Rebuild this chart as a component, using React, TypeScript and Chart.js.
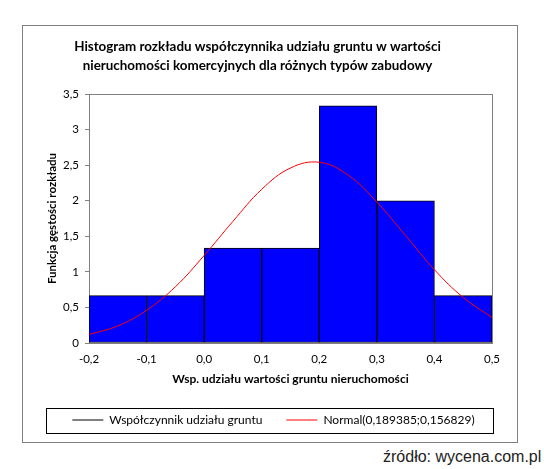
import { useEffect, useRef } from "react";
import Chart from "chart.js/auto";

// histogram bins (centre of each 0.1 wide bin) and density heights
const binCenters = [-0.15, -0.05, 0.05, 0.15, 0.25, 0.35, 0.45];
const binDensity = [0.667, 0.667, 1.333, 1.333, 3.333, 2.0, 0.667];

// fitted normal curve
const curveX = [-0.2, -0.15, -0.1, -0.05, 0, 0.05, 0.1, 0.15, 0.2, 0.25, 0.3, 0.35, 0.4, 0.45, 0.5];
const curveY = [0.12, 0.24, 0.46, 0.79, 1.23, 1.71, 2.16, 2.46, 2.54, 2.36, 1.98, 1.51, 1.03, 0.64, 0.36];

const xRange = [-0.2, 0.5];
const yRange = [0, 3.5];

const titleLines = [
  "Histogram rozkładu współczynnika udziału gruntu w wartości",
  "nieruchomości komercyjnych dla różnych typów zabudowy",
];
const seriesNames = ["Współczynnik udziału gruntu", "Normal(0,189385;0,156829)"];
const xTitle = "Wsp. udziału wartości gruntu nieruchomości";
const yTitle = "Funkcja gęstości rozkładu";

const FONT = "Lato, 'Liberation Sans', sans-serif";

const clean = (v: number) => (Math.abs(v) < 1e-9 ? 0 : v);
const fmtX = (v: number) => clean(v).toFixed(1).replace(".", ",");
const fmtY = (v: number) => {
  const n = clean(v);
  return Number.isInteger(n) ? String(n) : n.toFixed(1).replace(".", ",");
};

const frame = {
  id: "frame",
  afterLayout(chart: any) {
    // centre legend items a bit to the right, like the original
    chart.legend.left += 16;
    chart.legend.right += 16;
  },
  beforeDatasetsDraw(chart: any) {
    const { ctx, chartArea: a } = chart;
    ctx.save();
    ctx.strokeStyle = "#808080";
    ctx.lineWidth = 1;
    ctx.strokeRect(a.left + 0.5, a.top + 0.5, a.right - a.left, a.bottom - a.top);
    ctx.restore();
  },
  afterDraw(chart: any) {
    const { ctx, legend } = chart;
    const cy = legend.top + 24 + 6;
    ctx.save();
    ctx.strokeStyle = "#000";
    ctx.lineWidth = 1;
    ctx.strokeRect(23.5, Math.round(cy - 12.5) + 0.5, 447, 25);
    ctx.restore();
  },
};

export default function App() {
  const canvasRef = useRef<HTMLCanvasElement | null>(null);
  const chartRef = useRef<Chart | null>(null);

  useEffect(() => {
    if (!canvasRef.current) return;
    if (chartRef.current) chartRef.current.destroy();

    chartRef.current = new Chart(canvasRef.current, {
      type: "bar",
      data: {
        datasets: [
          {
            type: "bar",
            label: seriesNames[0],
            data: binCenters.map((x, i) => ({ x, y: binDensity[i] })),
            backgroundColor: "#0000ff",
            borderColor: "#000000",
            borderWidth: 1,
            borderSkipped: false,
            barPercentage: 1,
            categoryPercentage: 1,
            order: 2,
          },
          {
            type: "line",
            label: seriesNames[1],
            data: curveX.map((x, i) => ({ x, y: curveY[i] })),
            borderColor: "#ff0000",
            borderWidth: 1,
            pointRadius: 0,
            tension: 0.4,
            fill: false,
            order: 1,
          },
        ] as any,
      },
      options: {
        animation: false,
        responsive: false,
        devicePixelRatio: 1,
        layout: { padding: { left: 0, right: 25, top: 0, bottom: 6 } },
        plugins: {
          title: {
            display: true,
            text: titleLines,
            color: "#000",
            font: { family: FONT, size: 13.4, weight: "bold", lineHeight: "19px" },
            padding: { top: 11.5, bottom: 18.5 },
          },
          legend: {
            position: "bottom",
            labels: {
              color: "#000",
              font: { family: FONT, size: 12 },
              padding: 24,
              usePointStyle: true,
              pointStyleWidth: 31,
              sort: (a: any, b: any) => a.datasetIndex - b.datasetIndex,
              generateLabels: (chart: any) =>
                chart.data.datasets.map((ds: any, i: number) => ({
                  text: ds.label,
                  datasetIndex: i,
                  pointStyle: "line",
                  strokeStyle: i === 0 ? "#000" : "#ff0000",
                  fillStyle: i === 0 ? "#000" : "#ff0000",
                  lineWidth: 1,
                  fontColor: "#000",
                  hidden: false,
                })),
            },
          },
          tooltip: { enabled: false },
        },
        scales: {
          x: {
            type: "linear",
            min: xRange[0],
            max: xRange[1],
            offset: false,
            grid: { display: false, drawTicks: false },
            border: { display: false },
            ticks: {
              stepSize: 0.1,
              padding: 9,
              color: "#000",
              font: { family: FONT, size: 11.5 },
              maxRotation: 0,
              callback: (v: any) => fmtX(Number(v)),
            },
            title: {
              display: true,
              text: xTitle,
              color: "#000",
              font: { family: FONT, size: 12, weight: "bold" },
              padding: { top: 0, bottom: 4 },
            },
            afterFit: (scale: any) => {
              scale.height = 47;
            },
          },
          y: {
            min: yRange[0],
            max: yRange[1],
            grid: { display: true, drawOnChartArea: false, tickLength: 4, color: "#808080" },
            border: { display: true, color: "#808080" },
            ticks: {
              stepSize: 0.5,
              padding: 6,
              color: "#000",
              font: { family: FONT, size: 11.5 },
              callback: (v: any) => fmtY(Number(v)),
            },
            title: {
              display: true,
              text: yTitle,
              color: "#000",
              font: { family: FONT, size: 11.5, weight: "bold" },
              padding: { top: 22.8, bottom: 0 },
            },
            afterFit: (scale: any) => {
              scale.width = 66;
            },
          },
        },
      },
      plugins: [frame],
    });

    return () => {
      chartRef.current?.destroy();
      chartRef.current = null;
    };
  }, []);

  return (
    <div style={{ position: "absolute", left: 0, top: 0, width: 544, height: 469, background: "#fff" }}>
      <div
        style={{
          position: "absolute",
          left: 22,
          top: 25,
          width: 496,
          height: 418,
          border: "1px solid #808080",
          boxSizing: "border-box",
        }}
      >
        <canvas ref={canvasRef} width={494} height={416} style={{ display: "block" }} />
      </div>
      <div
        style={{
          position: "absolute",
          left: 383,
          top: 447,
          fontFamily: "'Liberation Sans', Arial, sans-serif",
          fontSize: 16,
          lineHeight: "20px",
          color: "#222",
          whiteSpace: "nowrap",
        }}
      >
        źródło: wycena.com.pl
      </div>
    </div>
  );
}
